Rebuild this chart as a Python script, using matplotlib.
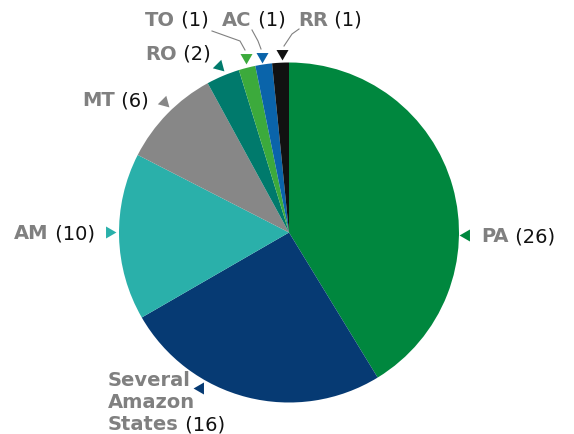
import matplotlib.pyplot as plt

plt.rcParams['font.family'] = ['DejaVu Sans']

# data
states = ['PA', 'Several Amazon States', 'AM', 'MT', 'RO', 'TO', 'AC', 'RR']
counts = [26, 16, 10, 6, 2, 1, 1, 1]
colors = ['#00873e', '#063a73', '#2ab0aa', '#878787', '#007a6c', '#3caa3c', '#0a64aa', '#111111']

W, H = 574, 435
fig = plt.figure(figsize=(W / 100, H / 100), dpi=100)
ax = fig.add_axes([0, 0, 1, 1])

ax.pie(counts, colors=colors, startangle=90, counterclock=False,
       center=(289, H - 233.5), radius=170,
       wedgeprops=dict(linewidth=0))
ax.set_xlim(0, W)
ax.set_ylim(0, H)
ax.set_aspect('equal')
ax.axis('off')

grey = '#808080'
fs = 14


def label(lines, x, y, n, dy=22):
    # bold grey name, then the count in normal black
    t = None
    for i, ln in enumerate(lines):
        t = ax.text(x, H - (y + i * dy), ln, fontsize=fs, fontweight='bold',
                    color=grey, ha='left', va='center')
    ax.annotate(' (%d)' % n, xy=(1, 0), xycoords=t, fontsize=fs,
                color='#111111', ha='left', va='bottom')


# label positions (px, from top) and marker rotation
pos = {
    'PA': (481, 237, 90, (466, 236)),
    'Several Amazon States': (108, 381, 90, (200, 389)),
    'AM': (14, 234, 270, (109, 233)),
    'MT': (82, 101, 225, (164, 103)),
    'RO': (145, 54, 225, (219, 67)),
    'TO': (145, 20, 180, (246, 58)),
    'AC': (222, 20, 180, (262, 57)),
    'RR': (298, 20, 180, (282, 54)),
}

for s, n, c in zip(states, counts, colors):
    x, y, rot, (mx, my) = pos[s]
    label(s.split(' ') if ' ' in s else [s], x, y, n)
    ax.plot(mx, H - my, marker=(3, 0, rot), markersize=10, color=c,
            markeredgewidth=0, clip_on=False)

# leader lines for the small slices
leaders = {
    'TO': [(212, 32), (240, 42), (245, 51)],
    'AC': [(252, 31), (258, 42), (261, 50)],
    'RR': [(299, 30), (292, 35), (284, 47)],
}
for k, pts in leaders.items():
    ax.plot([p[0] for p in pts], [H - p[1] for p in pts], color='#808080',
            linewidth=0.8)

fig.savefig('out.png', dpi=100)
